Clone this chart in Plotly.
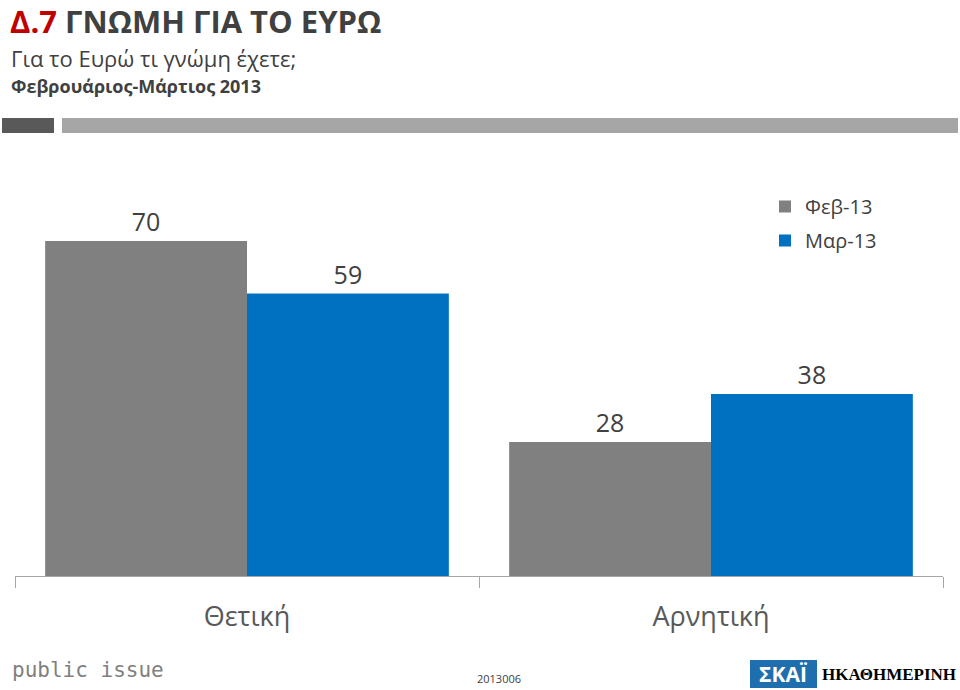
import plotly.graph_objects as go

categories = ["Θετική", "Αρνητική"]
series_names = ["Φεβ-13", "Μαρ-13"]
feb_values = [70, 28]
mar_values = [59, 38]
colors = ["#808080", "#0070C0"]

W, H = 960, 690
L, R, T, B = 15, 17, 193, 114
PW, PH = W - L - R, H - T - B

def px(x):
    return (x - L) / PW

def py(y):
    return (H - B - y) / PH

FONT = "Open Sans"

fig = go.Figure()
for name, vals, col in zip(series_names, [feb_values, mar_values], colors):
    fig.add_trace(go.Bar(
        x=categories, y=vals, name=name, legendgroup=name,
        marker=dict(color=col, line=dict(width=0)),
        text=[str(v) for v in vals], textposition="outside", cliponaxis=False,
        textfont=dict(size=25, color="#404040", family=FONT),
    ))

fig.update_layout(
    width=W, height=H, margin=dict(l=L, r=R, t=T, b=B),
    paper_bgcolor="white", plot_bgcolor="white",
    barmode="group", bargap=0.13, bargroupgap=0,
    font=dict(family=FONT),
    showlegend=True,
    legend=dict(x=px(765), y=py(187), xanchor="left", yanchor="top",
                font=dict(size=20, color="#404040", family=FONT),
                bgcolor="rgba(0,0,0,0)", itemwidth=30, tracegroupgap=5),
    xaxis=dict(showline=True, linecolor="#A6A6A6", linewidth=1, ticks="outside",
               tickson="boundaries", ticklen=11, tickcolor="#A6A6A6",
               tickfont=dict(size=27, color="#595959", family=FONT), ticklabelstandoff=17,
               showgrid=False),
    yaxis=dict(range=[0, 80], visible=False, showgrid=False),
)

# header
fig.add_annotation(xref="paper", yref="paper", x=px(8), y=py(21), xanchor="left", yanchor="middle",
                   text="<b><span style='color:#C00000'>Δ.7</span> ΓΝΩΜΗ ΓΙΑ ΤΟ ΕΥΡΩ</b>",
                   font=dict(size=31, color="#404040", family=FONT), showarrow=False)
fig.add_annotation(xref="paper", yref="paper", x=px(9), y=py(58), xanchor="left", yanchor="middle",
                   text="Για το Ευρώ τι γνώμη έχετε;",
                   font=dict(size=22, color="#404040", family=FONT), showarrow=False)
fig.add_annotation(xref="paper", yref="paper", x=px(9), y=py(86), xanchor="left", yanchor="middle",
                   text="<b>Φεβρουάριος-Μάρτιος 2013</b>",
                   font=dict(size=18, color="#404040", family=FONT), showarrow=False)
fig.add_shape(type="rect", xref="paper", yref="paper", x0=px(2), x1=px(54), y0=py(118), y1=py(133),
              fillcolor="#595959", line=dict(width=0))
fig.add_shape(type="rect", xref="paper", yref="paper", x0=px(62), x1=px(958), y0=py(118), y1=py(133),
              fillcolor="#A6A6A6", line=dict(width=0))

# footer
fig.add_annotation(xref="paper", yref="paper", x=px(10), y=py(670), xanchor="left", yanchor="middle",
                   text="public issue", font=dict(size=21, color="#7F7F7F", family="DejaVu Sans Mono"),
                   showarrow=False)
fig.add_annotation(xref="paper", yref="paper", x=px(499), y=py(678), xanchor="center", yanchor="middle",
                   text="2013006", font=dict(size=11, color="#404040", family=FONT), showarrow=False)
fig.add_shape(type="rect", xref="paper", yref="paper", x0=px(750), x1=px(817), y0=py(660), y1=py(688),
              fillcolor="#1F6FAF", line=dict(width=0))
fig.add_annotation(xref="paper", yref="paper", x=px(783), y=py(674), xanchor="center", yanchor="middle",
                   text="<b>ΣΚΑΪ</b>", font=dict(size=21, color="white", family=FONT), showarrow=False)
fig.add_annotation(xref="paper", yref="paper", x=px(889), y=py(674), xanchor="center", yanchor="middle",
                   text="<b>ΗΚΑΘΗΜΕΡΙΝΗ</b>", font=dict(size=17, color="black", family="Liberation Serif"),
                   showarrow=False)

fig.write_html("out.html", config={"displayModeBar": False},
               post_script="document.body.style.margin='0';document.body.style.overflow='hidden';")
